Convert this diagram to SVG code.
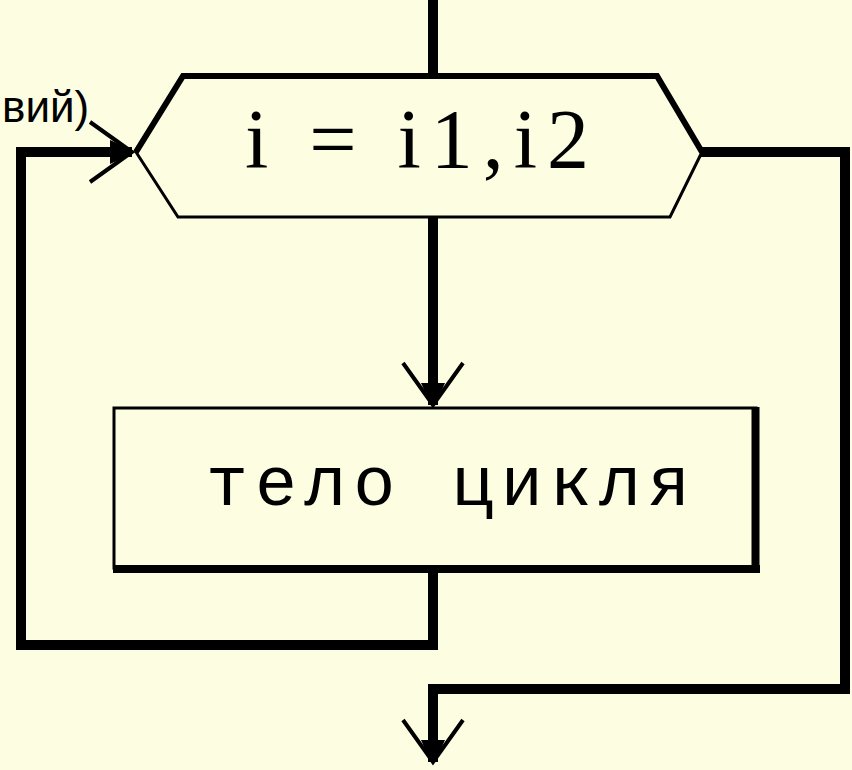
<svg xmlns="http://www.w3.org/2000/svg" width="852" height="770" viewBox="0 0 852 770">
  <style>
    .bg { fill: #FDFDE1; }
    .wire { fill: none; stroke: #000; stroke-width: 10; stroke-linejoin: miter; stroke-linecap: butt; }
    .thin { fill: #FDFDE1; stroke: #000; stroke-width: 3; }
    .thick { fill: none; stroke: #000; stroke-width: 6; stroke-linejoin: miter; }
    .serif { font-family: "Liberation Serif", "DejaVu Serif", serif; fill: #000; }
    .mono { font-family: "Liberation Mono", "DejaVu Sans Mono", monospace; fill: #000; }
    .sans { font-family: "Liberation Sans", Arial, sans-serif; fill: #000; }
  </style>
  <defs>
    <marker id="arrow" markerUnits="userSpaceOnUse" markerWidth="80" markerHeight="80" refX="0" refY="0" orient="auto" overflow="visible" viewBox="-50 -40 60 80">
      <path d="M -42,-30 L -14,-10 L 0,0 L -14,10 L -42,30" fill="none" stroke="#000" stroke-width="4" stroke-linejoin="miter"/>
      <path d="M -22,-12 L 0,-2 L 0,2 L -22,12 Z" fill="#000"/>
    </marker>
  </defs>
  <rect class="bg" x="0" y="0" width="852" height="770"/>

  <g id="connectors">
    <path class="wire" d="M 433,0 L 433,76"/>
    <path class="wire" d="M 433,217 L 433,405" marker-end="url(#arrow)"/>
    <path class="wire" d="M 433,570 L 433,645 L 21,645 L 21,152 L 132,152" marker-end="url(#arrow)"/>
    <path class="wire" d="M 700,152 L 845,152 L 845,689 L 433,689 L 433,762" marker-end="url(#arrow)"/>
  </g>

  <g id="loop-header">
    <polygon class="thin" points="183,76 657,76 702,152 670,217 178,217 136,152"/>
    <polyline class="thick" points="136,152 183,76 657,76 702,152"/>
    <text class="serif" x="245" y="168" font-size="84" textLength="344" lengthAdjust="spacing">i = i1,i2</text>
  </g>

  <g id="loop-body">
    <rect class="thin" x="114" y="408" width="642" height="160"/>
    <path d="M 755.5,407 L 755.5,573 M 113,569 L 760,569" fill="none" stroke="#000" stroke-width="8"/>
    <text class="mono" x="206" y="505" font-size="70" textLength="484" lengthAdjust="spacing">тело цикля</text>
  </g>

  <g id="caption">
    <text class="sans" x="2" y="122" font-size="44">вий)</text>
  </g>
</svg>
